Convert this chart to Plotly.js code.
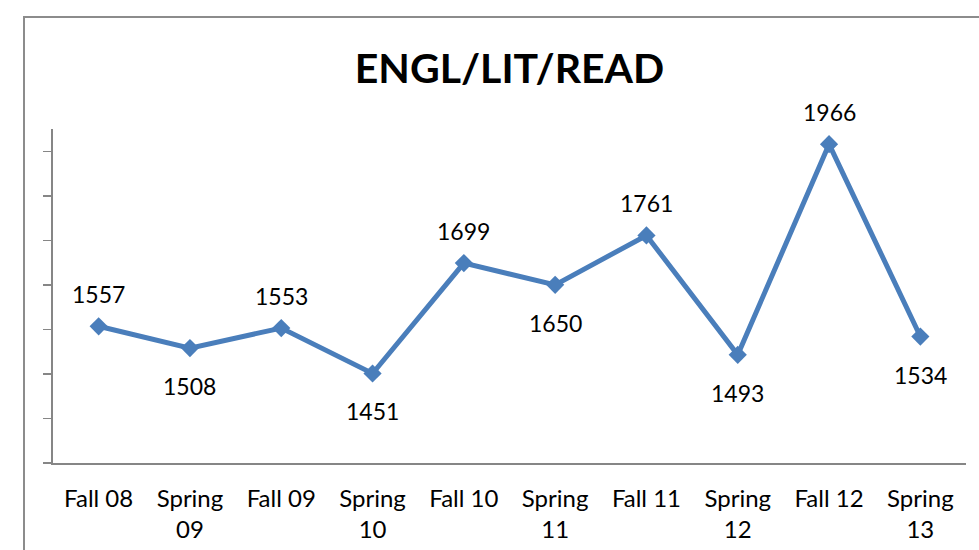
<!DOCTYPE html>
<html>
<head>
<meta charset="utf-8">
<script src="https://cdn.plot.ly/plotly-3.0.1.min.js"></script>
<style>
html,body{margin:0;padding:0;overflow:hidden;background:#fff;}
#wrap{position:relative;width:979px;height:550px;}
#frame{position:absolute;left:23px;top:16px;width:1000px;height:600px;border:2px solid #8c8c8c;pointer-events:none;}
</style>
</head>
<body>
<div id="wrap">
<div id="chart" style="width:979px;height:550px;"></div>
<div id="frame"></div>
</div>
<script>
const categories = ["Fall 08","Spring<br>09","Fall 09","Spring<br>10","Fall 10","Spring<br>11","Fall 11","Spring<br>12","Fall 12","Spring<br>13"];
const values = [1557,1508,1553,1451,1699,1650,1761,1493,1966,1534];
const labelPositions = ["above","below","above","below","above","below","above","below","above","below"];

const lineColor = "#4A7EBB";
const annotations = values.map((v,i)=>({
  x: categories[i], y: v, xref:"x", yref:"y",
  text: String(v), showarrow:false,
  yshift: labelPositions[i]==="above" ? 32 : -38,
  font:{family:"Lato, 'Open Sans', sans-serif", size:23, color:"#000"}
}));

const trace = {
  x: categories, y: values, type:"scatter", mode:"lines+markers",
  line:{color:lineColor, width:5},
  marker:{symbol:"diamond", size:14, color:lineColor},
  hoverinfo:"none"
};

const layout = {
  width:979, height:550,
  margin:{l:53, r:13, t:129, b:87},
  paper_bgcolor:"#fff", plot_bgcolor:"#fff",
  showlegend:false,
  title:{text:"<b>ENGL/LIT/READ</b>", x:0.5, xref:"paper", xanchor:"center", y:1-69/550, yanchor:"middle",
         font:{family:"Lato, 'Open Sans', sans-serif", size:41, color:"#000"}},
  xaxis:{type:"category", range:[-0.5,9.5], showline:true, linecolor:"#868686", linewidth:2,
         ticks:"", showgrid:false, zeroline:false, ticklabelstandoff:13,
         tickfont:{family:"Lato, 'Open Sans', sans-serif", size:24, color:"#000"}},
  yaxis:{range:[1250,2000], tick0:1250, dtick:100, showline:true, linecolor:"#868686", linewidth:2,
         ticks:"outside", ticklen:8, tickwidth:1.5, tickcolor:"#868686",
         showticklabels:false, showgrid:false, zeroline:false},
  annotations: annotations
};
Plotly.newPlot("chart",[trace],layout,{displayModeBar:false, staticPlot:true});
</script>
</body>
</html>
